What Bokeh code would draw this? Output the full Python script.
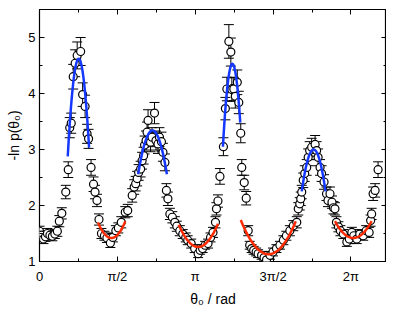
import numpy as np
from bokeh.plotting import figure
from bokeh.models import (ColumnDataSource, Whisker, TeeHead, FixedTicker,
                          CustomJSTickFormatter, LinearAxis, Range1d)
from bokeh.embed import file_html
from bokeh.resources import INLINE

# ---- data ----
theta = [0.00, 0.04, 0.08, 0.12, 0.16, 0.21, 0.26, 0.31, 0.36, 0.40, 0.45, 0.53, 0.58,
         0.61, 0.64, 0.68, 0.72, 0.76, 0.83, 0.87, 0.92, 0.96, 0.99, 1.04, 1.09, 1.12, 1.16,
         1.20, 1.25, 1.31, 1.36, 1.43, 1.48, 1.54, 1.59, 1.65, 1.73, 1.78,
         1.87, 1.91, 1.94, 1.97, 2.00, 2.04, 2.07, 2.10, 2.12, 2.15, 2.17, 2.19, 2.24, 2.27,
         2.32, 2.35, 2.39, 2.42, 2.46, 2.49, 2.53, 2.56, 2.59,
         2.63, 2.68, 2.73, 2.77, 2.83, 2.89, 2.95, 2.99, 3.06, 3.13, 3.20, 3.24, 3.29, 3.34,
         3.40, 3.45, 3.50, 3.55, 3.57, 3.60, 3.64,
         3.71, 3.75, 3.78, 3.82, 3.86, 3.88, 3.92, 3.95, 3.99, 4.02, 4.06, 4.08, 4.13, 4.17,
         4.21, 4.24, 4.28, 4.32, 4.37, 4.41, 4.48, 4.53, 4.58, 4.65, 4.71, 4.78, 4.85, 4.92,
         4.98, 5.05, 5.12, 5.19, 5.22, 5.25, 5.27,
         5.29, 5.32, 5.35, 5.39, 5.42, 5.45, 5.49, 5.56, 5.59, 5.62, 5.66, 5.69, 5.74, 5.79,
         5.82, 5.86, 5.90, 5.93, 5.96,
         5.99, 6.03, 6.07, 6.13, 6.20, 6.25, 6.30, 6.34, 6.40, 6.46, 6.53, 6.59, 6.65, 6.68,
         6.70, 6.73, 6.77, 6.83]
neg_ln_p = [1.54, 1.47, 1.40, 1.44, 1.50, 1.47, 1.45, 1.49, 1.54, 1.72, 1.86, 2.24, 2.64,
            3.39, 3.47, 4.30, 4.54, 4.68, 4.75, 3.98, 3.77, 3.28, 3.19, 2.68, 2.38, 2.24, 2.09,
            1.75, 1.50, 1.46, 1.42, 1.33, 1.43, 1.55, 1.60, 1.70, 1.88, 1.91,
            2.18, 2.33, 2.39, 2.48, 2.59, 2.65, 2.80, 2.89, 3.08, 3.16, 3.31, 3.52, 3.13, 3.22,
            3.65, 3.16, 3.10, 3.22, 3.14, 2.95, 2.77, 2.27, 2.12,
            1.85, 1.79, 1.70, 1.63, 1.55, 1.49, 1.43, 1.38, 1.32, 1.23, 1.14, 1.20, 1.23, 1.29,
            1.32, 1.43, 1.52, 1.70, 1.94, 2.08, 2.52,
            3.05, 3.73, 4.08, 4.93, 4.74, 4.07, 4.08, 3.95, 4.20, 3.84, 3.29, 2.68, 2.41, 2.13,
            1.55, 1.29, 1.23, 1.20, 1.17, 1.14, 1.11, 1.07, 1.03, 1.11, 1.17, 1.23, 1.29, 1.38,
            1.46, 1.55, 1.64, 1.70, 1.94, 2.03, 2.12,
            2.24, 2.45, 2.57, 2.68, 2.86, 2.98, 3.04, 3.09, 2.98, 2.86, 2.68, 2.57, 2.42, 2.21,
            2.09, 2.21, 2.06, 1.96, 1.94,
            1.70, 1.62, 1.55, 1.49, 1.35, 1.40, 1.52, 1.46, 1.40, 1.49, 1.46, 1.55, 1.52, 1.73,
            1.85, 2.21, 2.27, 2.64]
err = [0.09, 0.08, 0.08, 0.08, 0.09, 0.08, 0.08, 0.08, 0.09, 0.10, 0.10, 0.12, 0.14,
       0.18, 0.18, 0.22, 0.24, 0.24, 0.25, 0.21, 0.20, 0.17, 0.17, 0.14, 0.13, 0.12, 0.11,
       0.10, 0.09, 0.08, 0.08, 0.08, 0.08, 0.09, 0.09, 0.10, 0.10, 0.11,
       0.12, 0.13, 0.13, 0.13, 0.14, 0.14, 0.15, 0.15, 0.16, 0.17, 0.18, 0.19, 0.17, 0.17,
       0.19, 0.17, 0.17, 0.17, 0.17, 0.16, 0.15, 0.12, 0.12,
       0.10, 0.10, 0.10, 0.09, 0.09, 0.08, 0.08, 0.08, 0.08, 0.07, 0.07, 0.07, 0.07, 0.07,
       0.08, 0.08, 0.09, 0.10, 0.11, 0.11, 0.14,
       0.16, 0.20, 0.21, 0.30, 0.25, 0.21, 0.21, 0.21, 0.22, 0.20, 0.17, 0.14, 0.13, 0.12,
       0.09, 0.07, 0.07, 0.07, 0.07, 0.07, 0.07, 0.06, 0.06, 0.07, 0.07, 0.07, 0.07, 0.08,
       0.08, 0.09, 0.09, 0.10, 0.11, 0.11, 0.12,
       0.12, 0.13, 0.14, 0.14, 0.15, 0.16, 0.16, 0.16, 0.16, 0.15, 0.14, 0.14, 0.13, 0.12,
       0.11, 0.12, 0.11, 0.11, 0.11,
       0.10, 0.09, 0.09, 0.08, 0.08, 0.08, 0.09, 0.08, 0.08, 0.08, 0.08, 0.09, 0.09, 0.10,
       0.10, 0.12, 0.12, 0.14]

# parabolic fits: maxima (blue) and minima (red)
peak_center = [0.79, 2.28, 3.89, 5.53]
peak_top = [4.62, 3.34, 4.53, 3.00]
peak_curv = [36.0, 9.3, 41.0, 13.0]
peak_lo = [0.57, 1.99, 3.70, 5.29]
peak_hi = [1.00, 2.57, 4.05, 5.77]

valley_center = [1.45, 3.20, 4.62, 6.33]
valley_bottom = [1.42, 1.26, 1.13, 1.42]
valley_curv = [3.8, 2.6, 1.95, 2.2]
valley_lo = [1.18, 2.81, 4.06, 5.96]
valley_hi = [1.73, 3.60, 5.17, 6.70]

x_tick_labels = ["0", "π/2", "π", "3π/2", "2π"]
y_ticks = [1, 2, 3, 4, 5]
y_minor = [1.5, 2.5, 3.5, 4.5, 5.5]

FONT = "Liberation Sans"

p = figure(frame_width=347, frame_height=252,
           x_range=Range1d(0, 7.0), y_range=Range1d(1, 5.5),
           output_backend="svg", toolbar_location=None,
           min_border_left=39, min_border_right=0, min_border_top=9, min_border_bottom=40)
p.grid.visible = False
p.outline_line_color = "black"
p.outline_line_width = 1.2
p.background_fill_color = "white"
p.border_fill_color = "white"

xt = [i * np.pi / 2 for i in range(len(x_tick_labels))]
xm = [i * np.pi / 4 for i in range(1, 9, 2)]
xticker = FixedTicker(ticks=xt, minor_ticks=xm)
yticker = FixedTicker(ticks=y_ticks, minor_ticks=y_minor)
xfmt = CustomJSTickFormatter(args=dict(labels=x_tick_labels), code="""
const k = Math.round(tick / (Math.PI / 2));
return (k >= 0 && k < labels.length) ? labels[k] : "";
""")
blank = CustomJSTickFormatter(code="return '';")

def style(ax):
    ax.major_tick_in = 5
    ax.major_tick_out = 0
    ax.minor_tick_in = 3
    ax.minor_tick_out = 0
    ax.axis_line_color = None
    ax.major_tick_line_color = "black"
    ax.minor_tick_line_color = "black"
    ax.major_label_text_font = FONT
    ax.major_label_text_font_size = "13px"
    ax.major_label_text_color = "black"
    ax.axis_label_text_font = FONT
    ax.axis_label_text_font_size = "14px"
    ax.axis_label_text_font_style = "normal"
    ax.axis_label_text_color = "black"

xa = p.xaxis[0]
xa.ticker = xticker
xa.formatter = xfmt
xa.axis_label = "θ₀ / rad"
style(xa)
xa.major_label_standoff = 7
xa.axis_label_standoff = 4

ya = p.yaxis[0]
ya.ticker = yticker
ya.axis_label = "-ln p(θ₀)"
style(ya)
ya.major_label_standoff = 4
ya.axis_label_standoff = 3

top = LinearAxis(ticker=xticker, formatter=blank)
style(top)
top.major_label_text_font_size = "0px"
top.major_label_standoff = 0
p.add_layout(top, "above")
right = LinearAxis(ticker=yticker, formatter=blank)
style(right)
right.major_label_text_font_size = "0px"
right.major_label_standoff = 0
p.add_layout(right, "right")

x_arr = np.array(theta)
y_arr = np.array(neg_ln_p)
e_arr = np.array(err)
src = ColumnDataSource(dict(x=x_arr, y=y_arr, upper=y_arr + e_arr, lower=y_arr - e_arr))

wh = Whisker(source=src, base="x", upper="upper", lower="lower", dimension="height",
             line_color="black", line_width=1,
             upper_head=TeeHead(size=10, line_color="black", line_width=1),
             lower_head=TeeHead(size=10, line_color="black", line_width=1))
p.add_layout(wh)

p.scatter("x", "y", source=src, marker="circle", size=8, fill_color="white",
          line_color="black", line_width=1.2)

for c, t, k, lo, hi in zip(peak_center, peak_top, peak_curv, peak_lo, peak_hi):
    xs = np.linspace(lo, hi, 60)
    p.line(xs, t - k * (xs - c) ** 2, line_color="#1438ff", line_width=2.5)
for c, b, k, lo, hi in zip(valley_center, valley_bottom, valley_curv, valley_lo, valley_hi):
    xs = np.linspace(lo, hi, 60)
    p.line(xs, b + k * (xs - c) ** 2, line_color="#ff2a00", line_width=2.5)

open("out.html", "w").write(file_html(p, INLINE))
